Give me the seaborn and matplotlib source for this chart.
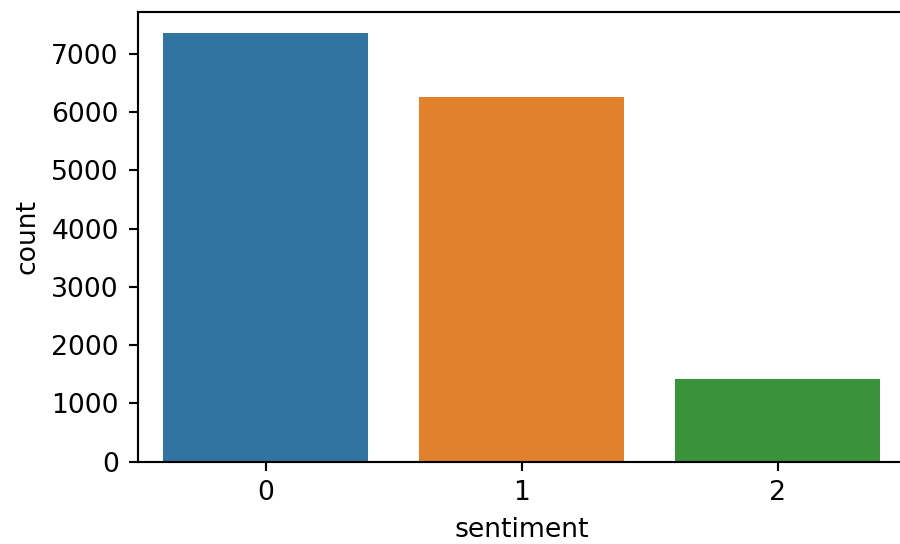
import pandas as pd
import numpy as np
import matplotlib
matplotlib.use('Agg')
import matplotlib.pyplot as plt
import seaborn as sns

# sentiment class counts
sentiment = ['0', '1', '2']
counts = [7360, 6268, 1418]

df = pd.DataFrame({'sentiment': sentiment, 'count': counts})

dpi = 192
fig = plt.figure(figsize=(900 / dpi, 544 / dpi), dpi=dpi)
ax = fig.add_axes([137.5 / 900, 1 - 461.7 / 544, 768 / 900, (461.7 - 11.5) / 544])

sns.barplot(data=df, x='sentiment', y='count', hue='sentiment',
            palette='tab10', legend=False, ax=ax)
ax.set_xlabel('sentiment')
ax.set_ylabel('count')

fig.savefig('out.png', dpi=dpi)
